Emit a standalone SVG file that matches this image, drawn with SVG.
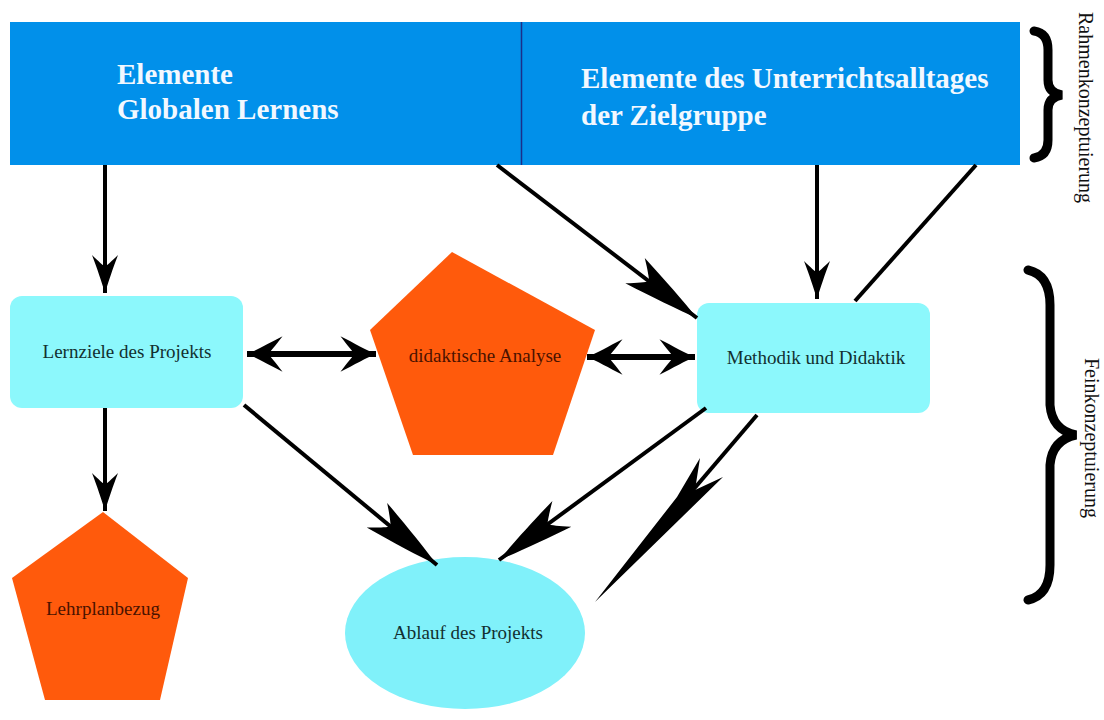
<svg xmlns="http://www.w3.org/2000/svg" width="1104" height="720" viewBox="0 0 1104 720">
<style>
.hdr{font-family:"Liberation Serif","DejaVu Serif",serif;font-weight:bold;font-size:29px;fill:#F2F8FF}
.lbl{font-family:"Liberation Serif","DejaVu Serif",serif;font-size:19px;fill:#123030}
.plbl{font-family:"Liberation Serif","DejaVu Serif",serif;font-size:19px;fill:#4a1200}
.side{font-family:"Liberation Serif","DejaVu Serif",serif;font-size:20px;fill:#111}
.box{fill:#8CF8FC}
.pent{fill:#FF5A0C}
.ln{stroke:#000;stroke-width:4;fill:none}
.dl{stroke:#000;stroke-width:6;fill:none}
.brace{stroke:#000;stroke-width:9;fill:none;stroke-linecap:round}
</style>
<defs>
<marker id="ah" markerUnits="userSpaceOnUse" markerWidth="42" markerHeight="30" viewBox="-40 -15 42 30" refX="0" refY="0" orient="auto">
<path d="M0,0 C-10,-3 -25,-8 -38,-13 C-31,-6 -28,-2 -26,0 C-28,2 -31,6 -38,13 C-25,8 -10,3 0,0 Z" fill="#000"/>
</marker>
<marker id="al" markerUnits="userSpaceOnUse" markerWidth="82" markerHeight="36" viewBox="-80 -18 82 36" refX="0" refY="0" orient="auto">
<path d="M0,0 C-20,-5 -50,-11 -78,-16 C-68,-8 -63,-3 -60,0 C-63,3 -68,8 -78,16 C-50,11 -20,5 0,0 Z" fill="#000"/>
</marker>
<marker id="ahs" markerUnits="userSpaceOnUse" markerWidth="40" markerHeight="40" viewBox="-34 -17 36 34" refX="0" refY="0" orient="auto-start-reverse">
<path d="M0,0 C-8,-3 -20,-10 -32,-16 C-25,-7 -21,-2 -19,0 C-21,2 -25,7 -32,16 C-20,10 -8,3 0,0 Z" fill="#000"/>
</marker>
</defs>
<rect width="1104" height="720" fill="#fff"/>

<g id="header">
<rect x="10" y="22" width="1010" height="143" fill="#0190EA"/>
<line x1="521.5" y1="22" x2="521.5" y2="165" stroke="#1B2F8A" stroke-width="1.5"/>
</g>
<g id="header-left">
<text class="hdr" x="117" y="84">Elemente</text>
<text class="hdr" x="117" y="119">Globalen Lernens</text>
</g>
<g id="header-right">
<text class="hdr" x="581" y="88">Elemente des Unterrichtsalltages</text>
<text class="hdr" x="581" y="125">der Zielgruppe</text>
</g>

<g id="lernziele">
<rect class="box" x="10" y="296" width="233" height="112" rx="12"/>
<text class="lbl" x="127" y="358" text-anchor="middle">Lernziele des Projekts</text>
</g>
<g id="didaktische-analyse">
<polygon class="pent" points="452,252 595,330 553,455 413,455 370,330"/>
<text class="plbl" x="485" y="362" text-anchor="middle">didaktische Analyse</text>
</g>
<g id="methodik">
<rect class="box" x="697" y="303" width="233" height="110" rx="12"/>
<text class="lbl" x="816" y="364" text-anchor="middle">Methodik und Didaktik</text>
</g>
<g id="lehrplanbezug">
<polygon class="pent" points="103,512 188,578 160,700 45,700 12,578"/>
<text class="plbl" x="103" y="615" text-anchor="middle">Lehrplanbezug</text>
</g>
<g id="ablauf">
<ellipse cx="465" cy="633" rx="120" ry="76" fill="#80F1FA"/>
<text class="lbl" x="468" y="639" text-anchor="middle">Ablauf des Projekts</text>
</g>

<g id="braces">
<path class="brace" d="M1034,31 Q1048,33 1048,50 L1048,80 Q1048,93 1062,95 Q1048,97 1048,110 L1048,140 Q1048,156 1034,158"/>
<text class="side" transform="translate(1079,12) rotate(90)">Rahmenkonzeptuierung</text>
<path class="brace" d="M1028,270 Q1050,275 1050,305 L1050,405 Q1052,430 1076,435 Q1052,440 1050,465 L1050,565 Q1050,595 1028,600"/>
<text class="side" transform="translate(1085,358) rotate(90)">Feinkonzeptuierung</text>
</g>

<g id="connectors">
<line class="ln" x1="105" y1="165" x2="105" y2="293" marker-end="url(#ah)"/>
<line class="ln" x1="497" y1="165" x2="697" y2="318" marker-end="url(#al)"/>
<line class="ln" x1="817" y1="165" x2="817" y2="299" marker-end="url(#ah)"/>
<line class="ln" x1="976" y1="165" x2="855" y2="301"/>
<line class="dl" x1="247" y1="354" x2="376" y2="354" marker-start="url(#ahs)" marker-end="url(#ahs)"/>
<line class="dl" x1="587" y1="357" x2="695" y2="357" marker-start="url(#ahs)" marker-end="url(#ahs)"/>
<line class="ln" x1="105" y1="408" x2="105" y2="511" marker-end="url(#ah)"/>
<line class="ln" x1="244" y1="405" x2="437" y2="565" marker-end="url(#al)"/>
<line class="ln" x1="706" y1="408" x2="499" y2="560" marker-end="url(#al)"/>
<line class="ln" x1="757" y1="415" x2="693" y2="490"/>
<path d="M595,602 L677,497 L700,458 L695,490 L723,477 Z" fill="#000"/>
</g>
</svg>
